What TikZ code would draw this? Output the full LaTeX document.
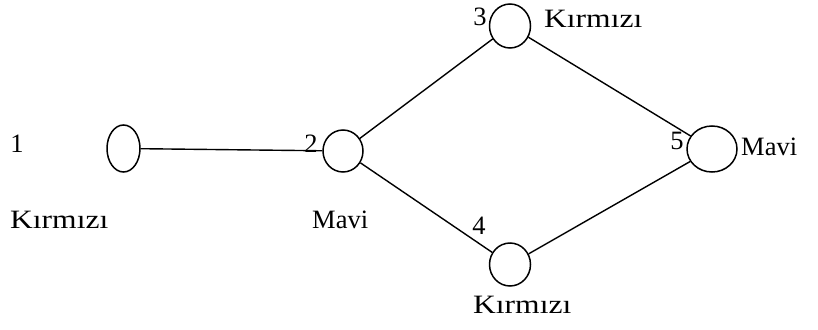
\documentclass[tikz,border=0pt]{standalone}
\usepackage{fontspec}
\setmainfont{Liberation Serif}
\usetikzlibrary{shapes.geometric}
\newcommand{\widek}[1]{\scalebox{1.19}[1]{#1}}
\begin{document}
\begin{tikzpicture}[x=1pt,y=-1pt,
  vertex/.style={draw,line width=1.5pt,ellipse,inner sep=0pt},
  lbl/.style={inner sep=0pt,font=\fontsize{26.5}{32}\selectfont},
  edge/.style={line width=1.4pt}]
\useasboundingbox (0,0) rectangle (818,329);
% vertices
\node[vertex,minimum width=33pt,minimum height=47pt] (v1) at (123.5,148.5) {};
\node[vertex,minimum width=40pt,minimum height=42pt] (v2) at (343,151) {};
\node[vertex,minimum width=41pt,minimum height=44pt] (v3) at (510,26) {};
\node[vertex,minimum width=41pt,minimum height=43pt] (v4) at (510,264.5) {};
\node[vertex,minimum width=50pt,minimum height=46pt] (v5) at (712,149) {};
% edges
\draw[edge] (v1) -- (v2);
\draw[edge] (v2) -- (v3);
\draw[edge] (v2) -- (v4);
\draw[edge] (v3) -- (v5);
\draw[edge] (v4) -- (v5);
% numbers
\node[lbl] (n1) at (17,144) {1};
\node[lbl] (n2) at (311,144) {2};
\node[lbl] (n3) at (480,17) {3};
\node[lbl] (n4) at (479,226) {4};
\node[lbl] (n5) at (677,141) {5};
% colour names
\node[lbl,anchor=west] (c1) at (10,220) {\widek{Kırmızı}};
\node[lbl,anchor=west] (c2) at (312,220) {Mavi};
\node[lbl,anchor=west] (c3) at (544,19) {\widek{Kırmızı}};
\node[lbl,anchor=west] (c4) at (473,305) {\widek{Kırmızı}};
\node[lbl,anchor=west] (c5) at (741,147) {Mavi};
\end{tikzpicture}
\end{document}
